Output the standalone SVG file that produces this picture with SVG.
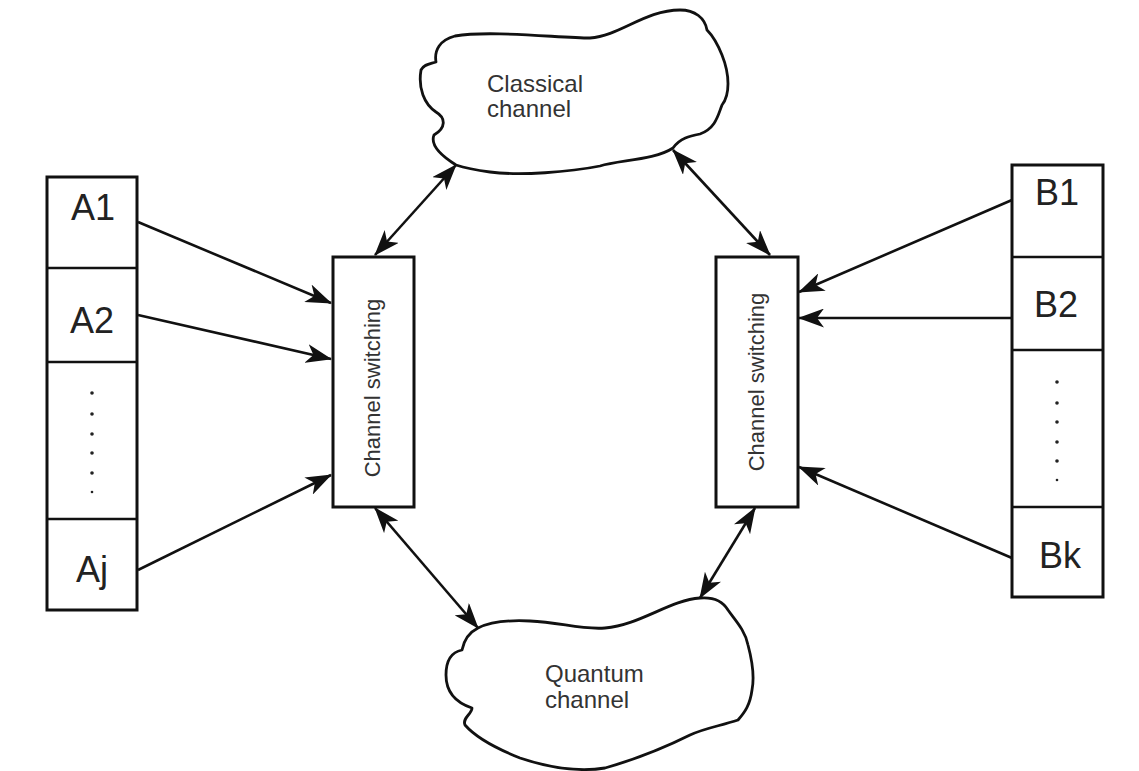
<svg xmlns="http://www.w3.org/2000/svg" width="1139" height="771" viewBox="0 0 1139 771">
<style>
.box{fill:#fff;stroke:#111;stroke-width:3}
.div{stroke:#111;stroke-width:2.5}
.cloud{fill:#fff;stroke:#111;stroke-width:2.8;stroke-linejoin:round}
.lbl{font-family:"Liberation Sans",Arial,sans-serif;font-size:36px;fill:#222;text-anchor:middle}
.ctx{font-family:"Liberation Sans",Arial,sans-serif;font-size:24px;fill:#333}
.sw{font-family:"Liberation Sans",Arial,sans-serif;font-size:22px;fill:#333;text-anchor:middle}
.con{stroke:#111;stroke-width:2.6;fill:none}
.dot{fill:#222}
</style>
<defs>
<marker id="ah" viewBox="0 0 26 19" refX="25" refY="9.5" markerWidth="26" markerHeight="19" markerUnits="userSpaceOnUse" orient="auto-start-reverse">
<path d="M0,0 L26,9.5 L0,19 L7,9.5 Z" fill="#111"/>
</marker>
</defs>
<rect width="1139" height="771" fill="#fff"/>

<g id="classical">
<path class="cloud" d="M456 165 C440 155 430 145 434 135 C446 128 446 118 436 112 C424 104 418 88 421 70 C424 64 430 64 436 62 C434 50 440 40 455 36 C490 30 560 38 590 38 C620 36 645 10 680 10 C695 10 705 18 707 30 C712 35 718 45 722 55 C730 75 730 95 722 105 C718 115 716 128 700 134 C690 136 680 138 673 148 C655 160 620 160 600 166 C570 172 520 176 490 172 C475 170 465 168 456 165 Z"/>
<text class="ctx" x="487" y="92">Classical</text>
<text class="ctx" x="487" y="117">channel</text>
</g>

<g id="quantum">
<path class="cloud" d="M478 628 C490 622 510 620 530 621 C560 622 580 630 605 628 C640 625 670 600 700 598 C712 597 722 600 728 610 C735 620 745 630 748 645 C752 660 755 675 752 690 C750 705 745 712 738 720 C720 726 705 728 690 735 C670 745 640 758 605 768 C580 772 550 768 520 758 C500 750 478 740 465 725 C462 718 472 714 472 708 C460 704 446 695 446 675 C446 660 452 652 462 650 C464 640 470 632 478 628 Z"/>
<text class="ctx" x="545" y="682">Quantum</text>
<text class="ctx" x="545" y="708">channel</text>
</g>

<g id="stackA">
<rect class="box" x="47" y="177" width="90" height="433"/>
<line class="div" x1="47" y1="268" x2="137" y2="268"/>
<line class="div" x1="47" y1="362" x2="137" y2="362"/>
<line class="div" x1="47" y1="519" x2="137" y2="519"/>
<text class="lbl" x="93" y="220">A1</text>
<text class="lbl" x="92" y="333">A2</text>
<text class="lbl" x="92" y="582">Aj</text>
<circle class="dot" cx="92" cy="393" r="1.8"/>
<circle class="dot" cx="92" cy="414" r="1.8"/>
<circle class="dot" cx="92" cy="434" r="1.8"/>
<circle class="dot" cx="92" cy="453" r="1.8"/>
<circle class="dot" cx="92" cy="473" r="1.8"/>
<circle class="dot" cx="92" cy="492" r="1.3"/>
</g>

<g id="stackB">
<rect class="box" x="1012" y="165" width="91" height="432"/>
<line class="div" x1="1012" y1="257" x2="1103" y2="257"/>
<line class="div" x1="1012" y1="350" x2="1103" y2="350"/>
<line class="div" x1="1012" y1="507" x2="1103" y2="507"/>
<text class="lbl" x="1057" y="205">B1</text>
<text class="lbl" x="1056" y="317">B2</text>
<text class="lbl" x="1060" y="568">Bk</text>
<circle class="dot" cx="1057" cy="382" r="1.8"/>
<circle class="dot" cx="1057" cy="403" r="1.8"/>
<circle class="dot" cx="1057" cy="422" r="1.8"/>
<circle class="dot" cx="1057" cy="442" r="1.8"/>
<circle class="dot" cx="1057" cy="461" r="1.8"/>
<circle class="dot" cx="1057" cy="480" r="1.3"/>
</g>

<g id="switchL">
<rect class="box" x="333" y="257" width="81" height="250"/>
<text class="sw" transform="translate(372,388) rotate(-90)" dy="0.35em">Channel switching</text>
</g>

<g id="switchR">
<rect class="box" x="716" y="257" width="82" height="250"/>
<text class="sw" transform="translate(756,382) rotate(-90)" dy="0.35em">Channel switching</text>
</g>

<g id="connectors">
<line class="con" x1="138" y1="222" x2="331" y2="303" marker-end="url(#ah)"/>
<line class="con" x1="138" y1="315" x2="331" y2="359" marker-end="url(#ah)"/>
<line class="con" x1="138" y1="570" x2="331" y2="475" marker-end="url(#ah)"/>
<line class="con" x1="1012" y1="200" x2="799" y2="292" marker-end="url(#ah)"/>
<line class="con" x1="1012" y1="318" x2="799" y2="318" marker-end="url(#ah)"/>
<line class="con" x1="1012" y1="558" x2="799" y2="467" marker-end="url(#ah)"/>
<line class="con" x1="375" y1="255" x2="456" y2="165" marker-start="url(#ah)" marker-end="url(#ah)"/>
<line class="con" x1="770" y1="255" x2="673" y2="150" marker-start="url(#ah)" marker-end="url(#ah)"/>
<line class="con" x1="375" y1="508" x2="478" y2="628" marker-start="url(#ah)" marker-end="url(#ah)"/>
<line class="con" x1="755" y1="508" x2="700" y2="598" marker-start="url(#ah)" marker-end="url(#ah)"/>
</g>
</svg>
